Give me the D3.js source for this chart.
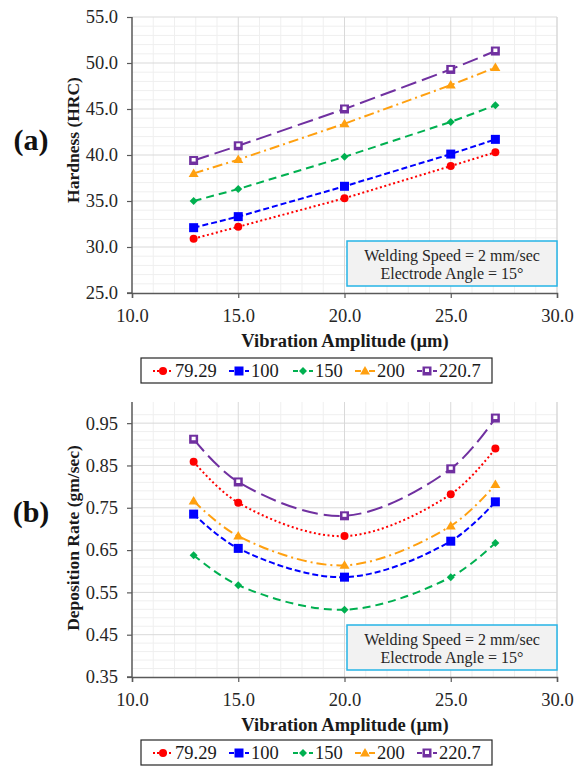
<!DOCTYPE html>
<html>
<head>
<meta charset="utf-8">
<script src="https://cdn.jsdelivr.net/npm/d3@7"></script>
<style>
  body { margin: 0; background: #fff; }
  svg text { font-family: "Liberation Serif", "Times New Roman", "DejaVu Serif", serif; }
</style>
</head>
<body>
<div id="chart"></div>
<script>
// amplitudes (µm) and the five series (legend labels)
const amplitude = [12.9, 15, 20, 25, 27.1];
const seriesNames = ['79.29', '100', '150', '200', '220.7'];

// (a) hardness, HRC
const hardness79 = [30.9, 32.2, 35.3, 38.8, 40.3];
const hardness100 = [32.1, 33.3, 36.6, 40.1, 41.7];
const hardness150 = [35.0, 36.3, 39.8, 43.6, 45.4];
const hardness200 = [38.0, 39.5, 43.4, 47.6, 49.5];
const hardness220 = [39.4, 41.0, 45.0, 49.3, 51.3];

// (b) deposition rate, gm/sec
const depo79 = [0.859, 0.762, 0.683, 0.782, 0.890];
const depo100 = [0.735, 0.654, 0.586, 0.671, 0.764];
const depo150 = [0.638, 0.567, 0.509, 0.586, 0.667];
const depo200 = [0.766, 0.683, 0.614, 0.707, 0.805];
const depo220 = [0.912, 0.811, 0.731, 0.842, 0.962];

const xTicks = [10, 15, 20, 25, 30];
const hardTicks = [25, 30, 35, 40, 45, 50, 55];
const depoTicks = [0.35, 0.45, 0.55, 0.65, 0.75, 0.85, 0.95];

const styles = [
    {color: '#ff0000', dash: '2,2.6', marker: 'circle'},
    {color: '#0000ff', dash: '6,3', marker: 'square'},
    {color: '#00b050', dash: '8,5', marker: 'diamond'},
    {color: '#ffa010', dash: '10,4,2,4', marker: 'triangle'},
    {color: '#7030a0', dash: '16,6', marker: 'opensquare'}
];

const svg = d3.select('#chart').append('svg')
    .attr('width', 581)
    .attr('height', 767);

function drawMarker(g, type, color, x, y) {
    if (type === 'circle') {
        g.append('circle').attr('cx', x).attr('cy', y).attr('r', 4).attr('fill', color);
    } else if (type === 'square') {
        g.append('rect').attr('x', x - 4.5).attr('y', y - 4.5).attr('width', 9).attr('height', 9).attr('fill', color);
    } else if (type === 'diamond') {
        g.append('path').attr('d', `M${x},${y - 4}L${x + 4},${y}L${x},${y + 4}L${x - 4},${y}Z`).attr('fill', color);
    } else if (type === 'triangle') {
        g.append('path').attr('d', `M${x},${y - 5}L${x + 5},${y + 3.5}L${x - 5},${y + 3.5}Z`).attr('fill', color);
    } else {
        g.append('rect').attr('x', x - 4.5).attr('y', y - 4.5).attr('width', 9).attr('height', 9).attr('fill', color);
        g.append('rect').attr('x', x - 2).attr('y', y - 2.5).attr('width', 4).attr('height', 3.5).attr('fill', '#fff');
    }
}

function drawPanel(opt) {
    const left = 132, right = 557;
    const x = d3.scaleLinear().domain([10, 30]).range([left, right]);
    const y = d3.scaleLinear().domain(opt.yDomain).range([opt.bottom, opt.top]);
    const g = svg.append('g');

    // minor + major gridlines
    const minorX = d3.range(11, 30, 1).filter(v => v % 5 !== 0);
    g.append('g').selectAll('line').data(minorX).enter().append('line')
        .attr('x1', d => x(d)).attr('x2', d => x(d))
        .attr('y1', opt.top).attr('y2', opt.bottom)
        .attr('stroke', '#efefef').attr('stroke-width', 1);
    g.append('g').selectAll('line').data(opt.minorY).enter().append('line')
        .attr('x1', left).attr('x2', right)
        .attr('y1', d => y(d)).attr('y2', d => y(d))
        .attr('stroke', '#efefef').attr('stroke-width', 1);
    g.append('g').selectAll('line').data([15, 20, 25]).enter().append('line')
        .attr('x1', d => x(d)).attr('x2', d => x(d))
        .attr('y1', opt.top).attr('y2', opt.bottom)
        .attr('stroke', '#d9d9d9').attr('stroke-width', 1);
    g.append('g').selectAll('line').data(opt.yTicks.slice(1)).enter().append('line')
        .attr('x1', left).attr('x2', right)
        .attr('y1', d => y(d)).attr('y2', d => y(d))
        .attr('stroke', '#d9d9d9').attr('stroke-width', 1);
    // right border
    g.append('line').attr('x1', right).attr('x2', right)
        .attr('y1', opt.top).attr('y2', opt.bottom)
        .attr('stroke', '#d9d9d9').attr('stroke-width', 1.5);

    // axes
    const yAxis = d3.axisLeft(y).tickValues(opt.yTicks).tickFormat(opt.fmt).tickSize(5).tickPadding(9);
    const xAxis = d3.axisBottom(x).tickValues(xTicks).tickFormat(d3.format('.1f')).tickSize(5).tickPadding(11);
    const ya = g.append('g').attr('transform', `translate(${left},0)`).call(yAxis);
    const xa = g.append('g').attr('transform', `translate(0,${opt.bottom})`).call(xAxis);
    [ya, xa].forEach(a => {
        a.attr('font-family', null).attr('font-size', null);
        a.select('.domain').attr('stroke', '#595959').attr('stroke-width', 1.5);
        a.selectAll('.tick line').attr('stroke', '#595959').attr('stroke-width', 1.2);
        a.selectAll('text').style('font-size', '18.5px').attr('fill', '#262626');
    });
    ya.select('.domain').attr('d', `M-5,${opt.bottom}H0V${opt.top}`);

    // series
    const line = d3.line().x(d => x(d[0])).y(d => y(d[1])).curve(opt.curve);
    opt.series.forEach((vals, i) => {
        const s = styles[i];
        const pts = amplitude.map((a, j) => [a, vals[j]]);
        g.append('path').datum(pts).attr('d', line)
            .attr('fill', 'none').attr('stroke', s.color).attr('stroke-width', 2)
            .attr('stroke-dasharray', s.dash);
        const mg = g.append('g');
        pts.forEach(p => drawMarker(mg, s.marker, s.color, x(p[0]), y(p[1])));
    });

    // annotation box
    const box = g.append('g');
    box.append('rect').attr('x', 347).attr('y', opt.boxTop).attr('width', 210).attr('height', 45)
        .attr('fill', '#f2f2f2').attr('stroke', '#26b4e6').attr('stroke-width', 1.5);
    box.append('text').attr('x', 452).attr('y', opt.boxTop + 20).attr('text-anchor', 'middle')
        .style('font-size', '16px').attr('fill', '#262626').text('Welding Speed = 2 mm/sec');
    box.append('text').attr('x', 452).attr('y', opt.boxTop + 37.5).attr('text-anchor', 'middle')
        .style('font-size', '16px').attr('fill', '#262626').text('Electrode Angle = 15°');

    // titles
    g.append('text').attr('x', 345).attr('y', opt.bottom + 54).attr('text-anchor', 'middle')
        .style('font-size', '18.5px').attr('font-weight', 'bold').attr('fill', '#1a1a1a')
        .text('Vibration Amplitude (µm)');
    g.append('text').attr('transform', `translate(79,${opt.yTitleY}) rotate(-90)`)
        .attr('text-anchor', 'middle').style('font-size', '17.5px').attr('font-weight', 'bold').attr('fill', '#1a1a1a')
        .text(opt.yTitle);
    g.append('text').attr('x', 31).attr('y', opt.panelY + 10).attr('text-anchor', 'middle')
        .style('font-size', '30px').attr('font-weight', 'bold').attr('fill', '#111')
        .text(opt.panel);

    // legend
    const lg = g.append('g');
    lg.append('rect').attr('x', 141).attr('y', opt.legendTop).attr('width', 351).attr('height', 25)
        .attr('fill', '#fff').attr('stroke', '#262626').attr('stroke-width', 1.2);
    const lx = [153, 229, 293, 355, 417];
    seriesNames.forEach((n, i) => {
        const s = styles[i];
        const cy = opt.legendTop + 13;
        lg.append('line').attr('x1', lx[i]).attr('x2', lx[i] + 20).attr('y1', cy).attr('y2', cy)
            .attr('stroke', s.color).attr('stroke-width', 2)
            .attr('stroke-dasharray', i === 0 ? '2,2' : (i === 3 ? '6,3,2,3' : '5,3'));
        drawMarker(lg, s.marker, s.color, lx[i] + 10, cy);
        lg.append('text').attr('x', lx[i] + 22).attr('y', cy + 6)
            .style('font-size', '18.5px').attr('fill', '#1a1a1a').text(n);
    });
}

drawPanel({
    panel: '(a)', panelY: 140,
    top: 17, bottom: 293, yDomain: [25, 55],
    yTicks: hardTicks, minorY: d3.range(26, 55, 1).filter(v => v % 5 !== 0),
    fmt: d3.format('.1f'), curve: d3.curveLinear,
    series: [hardness79, hardness100, hardness150, hardness200, hardness220],
    yTitle: 'Hardness (HRC)', yTitleY: 140,
    boxTop: 241, legendTop: 358
});

drawPanel({
    panel: '(b)', panelY: 512,
    top: 402, bottom: 677, yDomain: [0.35, 1.0],
    yTicks: depoTicks, minorY: d3.range(0, 32).map(k => 0.35 + 0.02 * k).filter(v => Math.round(v * 100) % 10 !== 5 && v < 1.0),
    fmt: d3.format('.2f'), curve: d3.curveCatmullRom.alpha(0.5),
    series: [depo79, depo100, depo150, depo200, depo220],
    yTitle: 'Deposition Rate (gm/sec)', yTitleY: 538,
    boxTop: 625, legendTop: 740
});
</script>
</body>
</html>
